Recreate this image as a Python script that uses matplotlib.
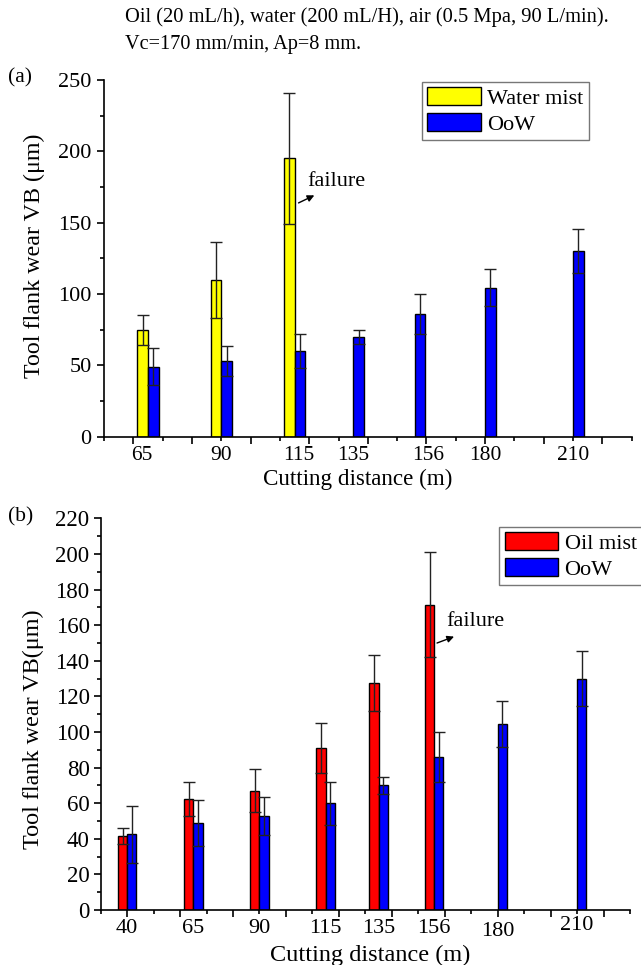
import numpy as np
import matplotlib
matplotlib.use("Agg")
import matplotlib.pyplot as plt

plt.rcParams['font.family'] = ['Liberation Serif', 'DejaVu Serif']

# panel (a): water mist vs OoW
dist_a = [65, 90, 115, 135, 156, 180, 210]
water_mist = [75, 110, 195]
water_err = [10.5, 26.5, 46]
oow = [49, 53, 60, 70, 86, 104.5, 130]
oow_err = [13, 10.7, 12, 4.8, 14, 12.8, 15.6]

# panel (b): oil mist vs OoW
dist_b = [40, 65, 90, 115, 135, 156, 180, 210]
oil_mist = [41.5, 62.5, 67, 91, 127.5, 171.5]
oil_err = [4.5, 9.5, 12.2, 14, 15.8, 29.6]
oow_b = [42.5, 49, 53, 60, 70, 86, 104.5, 130]
oow_b_err = [16, 13, 10.7, 12, 4.8, 14, 12.8, 15.6]

# hand-placed tick labels in the original are a bit off the groups
lab_dx_a = [-2, 0, 1.5, 0, 4.5, 0, 0]
lab_dy_b = [0, 0, 0, 0, 0, 0, -1.5, 1.5]

fig = plt.figure(figsize=(6.41, 9.65), dpi=100)

fig.text(125 / 641, 1 - 17 / 965, "Oil (20 mL/h), water (200 mL/H), air (0.5 Mpa, 90 L/min).",
         fontsize=14.8, va='center', ha='left')
fig.text(125 / 641, 1 - 45 / 965, "Vc=170 mm/min, Ap=8 mm.", fontsize=14.6, va='center', ha='left')

err_kw = dict(ecolor='#222222', elinewidth=1.0, capsize=4.5, capthick=1.0)


def style_axis(ax, xlim, ylim, ymajor, yminor, xmajor, xminor):
    ax.set_xlim(*xlim)
    ax.set_ylim(*ylim)
    for s in ['top', 'right']:
        ax.spines[s].set_visible(False)
    for s in ['left', 'bottom']:
        ax.spines[s].set_linewidth(1.2)
    ax.set_yticks(ymajor)
    ax.set_yticks(yminor, minor=True)
    ax.set_xticks(xmajor)
    ax.set_xticks(xminor, minor=True)
    ax.set_xticklabels([])
    ax.tick_params(which='major', direction='out', length=5, width=1.2, labelsize=16, pad=4)
    ax.tick_params(which='minor', direction='out', length=3.2, width=1.2)


legend_kw = dict(loc='upper left', fontsize=16, frameon=True, fancybox=False,
                 edgecolor='#777777', framealpha=1, borderpad=0.25, labelspacing=0.2,
                 handlelength=2.4, handleheight=0.85, handletextpad=0.3, borderaxespad=0)

# ---- (a)
ax1 = fig.add_axes([104 / 641, 1 - 436.7 / 965, (631.7 - 104) / 641, (436.7 - 80) / 965])
w1 = 3.65
xa = np.array(dist_a, dtype=float)
ax1.bar(xa[:3] - w1 / 2, water_mist, width=w1, color='#FFFF00', edgecolor='black', linewidth=1.0,
        label='Water mist', zorder=2)
ax1.bar(xa + w1 / 2, oow, width=w1, color='#0000FF', edgecolor='black', linewidth=1.0,
        label='OoW', zorder=2)
ax1.errorbar(xa[:3] - w1 / 2, water_mist, yerr=water_err, fmt='none', zorder=3, **err_kw)
ax1.errorbar(xa + w1 / 2, oow, yerr=oow_err, fmt='none', zorder=3, **err_kw)
style_axis(ax1, (50, 230), (0, 250), np.arange(0, 251, 50), np.arange(25, 250, 50),
           np.arange(60, 230, 20), np.arange(50, 231, 20))
for d, dx in zip(dist_a, lab_dx_a):
    ax1.text(d + dx, -6.5, str(d), ha='center', va='top', fontsize=15.5)
ax1.text(136.7, -22.5, "Cutting distance (m)", ha='center', va='top', fontsize=16.6)
ax1.set_ylabel("Tool flank wear VB (μm)", fontsize=17.3)
ax1.yaxis.set_label_coords(-0.112, 0.507)
ax1.annotate('', xy=(122.6, 170), xytext=(115.5, 163),
             arrowprops=dict(arrowstyle='-|>', color='black', lw=1.0, mutation_scale=10))
ax1.text(119.2, 179, "failure", fontsize=16, va='center', ha='left')
fig.text(8 / 641, 1 - 78 / 965, "(a)", fontsize=15.5, va='center', ha='left')
fig.legend(handles=ax1.get_legend_handles_labels()[0],
           bbox_to_anchor=(421.7 / 641, 1 - 81.7 / 965), **legend_kw)

# ---- (b)
ax2 = fig.add_axes([100.7 / 641, 1 - 910 / 965, (630 - 100.7) / 641, (910 - 518.3) / 965])
w2 = 3.5
xb = np.array(dist_b, dtype=float)
ax2.bar(xb[:6] - w2 / 2, oil_mist, width=w2, color='#FF0000', edgecolor='black', linewidth=1.0,
        label='Oil mist', zorder=2)
ax2.bar(xb + w2 / 2, oow_b, width=w2, color='#0000FF', edgecolor='black', linewidth=1.0,
        label='OoW', zorder=2)
ax2.errorbar(xb[:6] - w2 / 2, oil_mist, yerr=oil_err, fmt='none', zorder=3, **err_kw)
ax2.errorbar(xb + w2 / 2, oow_b, yerr=oow_b_err, fmt='none', zorder=3, **err_kw)
style_axis(ax2, (30, 230), (0, 220), np.arange(0, 221, 20), np.arange(10, 220, 20),
           np.arange(40, 230, 20), np.arange(30, 231, 20))
ax2.tick_params(which='major', labelsize=16.5, pad=3)
for d, dy in zip(dist_b, lab_dy_b):
    ax2.text(d, -5 + dy, str(d), ha='center', va='top', fontsize=16)
ax2.text(131.8, -19.5, "Cutting distance (m)", ha='center', va='top', fontsize=17.5)
ax2.set_ylabel("Tool flank wear VB(μm)", fontsize=17.4)
ax2.yaxis.set_label_coords(-0.107, 0.462)
ax2.annotate('', xy=(164.5, 154.1), xytext=(156.1, 149.4),
             arrowprops=dict(arrowstyle='-|>', color='black', lw=1.0, mutation_scale=10))
ax2.text(160.4, 162, "failure", fontsize=16, va='center', ha='left')
fig.text(8 / 641, 1 - 517 / 965, "(b)", fontsize=15.5, va='center', ha='left')
fig.legend(handles=ax2.get_legend_handles_labels()[0],
           bbox_to_anchor=(499 / 641, 1 - 526.7 / 965), **legend_kw)

fig.savefig("out.png", dpi=100)
